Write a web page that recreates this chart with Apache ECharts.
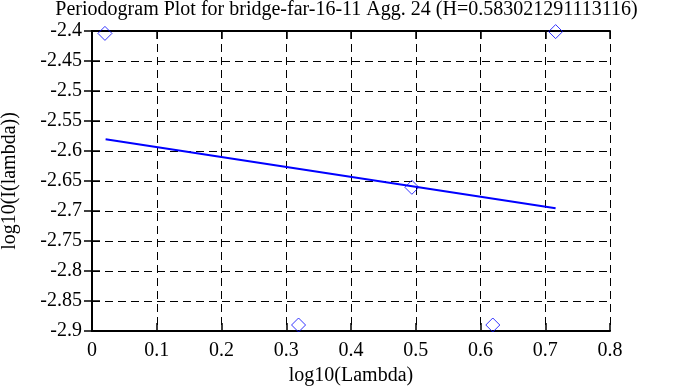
<!DOCTYPE html>
<html><head><meta charset="utf-8">
<script src="https://cdn.jsdelivr.net/npm/echarts@6/dist/echarts.min.js"></script>
<style>html,body{margin:0;padding:0;background:#fff}#c{width:693px;height:387px}</style>
</head><body><div id="c"></div>
<script>
const titleText = "Periodogram Plot for bridge-far-16-11 Agg. 24 (H=0.583021291113116)";
const xLabel = "log10(Lambda)";
const yLabel = "log10(I(lambda))";
const pointsX = [0.020, 0.319, 0.494, 0.619, 0.716];
const pointsY = [-2.404, -2.890, -2.6605, -2.890, -2.401];
const fitX = [0.021, 0.716];
const fitY = [-2.5805, -2.6955];
const xMin = 0, xMax = 0.8, xStep = 0.1;
const yMin = -2.9, yMax = -2.4, yStep = 0.05;

const font = "'Liberation Serif', 'DejaVu Serif', serif";
const fs = 20;
const chart = echarts.init(document.getElementById('c'));
const axisLine = {show: true, lineStyle: {color: '#000', width: 2}};
const tick = {show: true, inside: true, length: 8, lineStyle: {color: '#000', width: 1.5}};
const grid = {show: true, lineStyle: {color: '#000', type: [8, 5], width: 1}};
chart.setOption({
  animation: false,
  title: {text: titleText, left: 'center', top: 0, padding: 0,
    textStyle: {fontFamily: font, fontSize: fs, fontWeight: 'normal', color: '#000'}},
  grid: {left: 92, right: 83, top: 31, bottom: 56, containLabel: false, outerBoundsMode: 'none'},
  xAxis: [{
    type: 'value', min: xMin, max: xMax, interval: xStep,
    name: xLabel, nameLocation: 'middle', nameGap: 32,
    nameTextStyle: {fontFamily: font, fontSize: fs, color: '#000'},
    axisLine: axisLine, axisTick: tick,
    axisLabel: {fontFamily: font, fontSize: fs, color: '#000', margin: 10,
      formatter: v => String(+v.toFixed(2))},
    splitLine: grid
  }, {
    type: 'value', position: 'top', min: xMin, max: xMax, interval: xStep,
    axisLine: axisLine, axisTick: tick,
    axisLabel: {show: false}, splitLine: {show: false}
  }],
  yAxis: [{
    type: 'value', min: yMin, max: yMax, interval: yStep,
    name: yLabel, nameLocation: 'middle', nameGap: 72, nameRotate: 90,
    nameTextStyle: {fontFamily: font, fontSize: fs, color: '#000'},
    axisLine: axisLine, axisTick: tick,
    axisLabel: {fontFamily: font, fontSize: fs, color: '#000', margin: 10,
      formatter: v => String(+v.toFixed(2))},
    splitLine: grid
  }, {
    type: 'value', position: 'right', min: yMin, max: yMax, interval: yStep,
    axisLine: axisLine, axisTick: tick,
    axisLabel: {show: false}, splitLine: {show: false}
  }],
  series: [{
    type: 'line', data: fitX.map((x, i) => [x, fitY[i]]),
    showSymbol: false, symbol: 'none',
    lineStyle: {color: '#0000ff', width: 2}, z: 3
  }, {
    type: 'scatter', data: pointsX.map((x, i) => [x, pointsY[i]]),
    symbol: 'diamond', symbolSize: 14, clip: false,
    itemStyle: {color: 'rgba(0,0,0,0)', borderColor: '#0000ff', borderWidth: 1}, z: 4
  }]
});
</script></body></html>
